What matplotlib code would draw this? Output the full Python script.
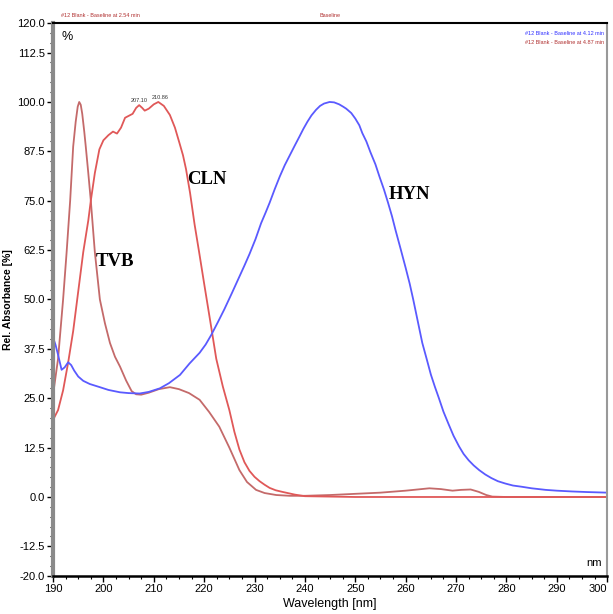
import matplotlib.pyplot as plt
import numpy as np
from matplotlib.ticker import MultipleLocator, FixedLocator

# HYN spectrum (blue)
hyn_wl = [190, 190.5, 191, 191.7, 192.3, 193, 193.6, 194.2, 195, 196, 197.3, 199.3, 201, 203.3,
          205, 207.2, 209, 211.2, 213, 215.2, 217.1, 219.1, 220.3, 221.4, 222.7, 224, 225.5,
          227, 228, 229, 230.2, 231.3, 232.2, 233, 234, 235, 236, 237, 238, 238.9, 239.7,
          240.5, 241.3, 242.2, 243, 243.8, 244.9, 245.8, 246.8, 247.6, 248.2, 249.2, 250,
          250.8, 251.4, 252.2, 253, 254, 254.8, 255.7, 256.5, 257.3, 258, 259, 260, 260.8,
          261.5, 262.4, 263.3, 264.2, 265, 265.8, 266.6, 267.5, 268.5, 269.5, 270.6, 271.5,
          272.5, 273.5, 274.6, 275.8, 277, 278.3, 279.8, 281.3, 283, 285, 287.8, 290, 293,
          296, 300]
hyn_abs = [40.4, 38.5, 36.0, 32.2, 32.8, 34.1, 33.4, 32.0, 30.5, 29.4, 28.6, 27.8, 27.1, 26.5,
           26.3, 26.2, 26.6, 27.5, 28.8, 30.9, 33.8, 36.5, 38.6, 41.0, 44.2, 47.5, 51.6,
           55.8, 58.6, 61.5, 65.3, 69.3, 72.0, 74.5, 77.9, 81.1, 84.0, 86.5, 89.0, 91.2, 93.2,
           95.0, 96.6, 98.0, 99.0, 99.6, 100.0, 99.9, 99.4, 98.8, 98.3, 97.2, 95.8,
           94.1, 92.1, 90.0, 87.3, 84.2, 81.1, 77.8, 74.5, 71.0, 67.5, 62.8, 58.0, 54.0,
           50.0, 44.5, 39.0, 34.8, 31.0, 27.9, 25.0, 21.6, 18.5, 15.5, 12.8, 10.9,
           9.3, 8.0, 6.8, 5.7, 4.8, 4.0, 3.4, 2.9, 2.6, 2.2, 1.8, 1.6, 1.4,
           1.25, 1.1]

# CLN spectrum (red)
cln_wl = [190, 191, 192, 193, 194, 194.8, 196, 197, 197.5, 198.3, 199.2, 200, 201, 201.9, 202.7,
          203.5, 204.3, 205.8, 206.5, 207.1, 207.7, 208.2, 209, 210, 210.9, 212, 213.2, 214.2,
          215.1, 215.8, 216.4, 217.2, 218.1, 219, 220, 221.4, 222.4, 223.7, 225, 226, 227, 228,
          229, 230, 231, 232, 233, 234.2, 235.5, 238, 240, 250, 300]
cln_abs = [19.5, 22.0, 27.0, 34.0, 42.0, 50.0, 62.0, 70.0, 75.0, 82.0, 88.0, 90.3, 91.6, 92.5, 92.0,
           93.5, 96.0, 97.0, 98.5, 99.2, 98.5, 97.8, 98.3, 99.4, 100.0, 99.0, 96.7, 93.5,
           89.6, 86.5, 83.0, 77.0, 69.0, 62.0, 54.0, 43.0, 35.0, 28.0, 22.0, 16.5, 12.0, 8.8,
           6.6, 5.1, 4.0, 3.1, 2.3, 1.7, 1.3, 0.6, 0.2, 0.0, 0.0]

# TVB spectrum (rose)
tvb_wl = [190, 191, 192, 192.7, 193.4, 194, 194.5, 194.9, 195.2, 195.5, 195.8, 196.2, 196.5,
          197, 197.5, 198.3, 199.3, 200.3, 201.3, 202.3, 203.3, 204.5, 205.6, 206.5, 207.5,
          209, 211, 213.2, 215, 217, 219.1, 221, 223, 225, 227, 228.5, 230.3, 232, 234.3,
          237, 240, 245, 250, 255, 260, 264.7, 267, 269.3, 271, 272.9, 274.5, 276, 277.2,
          280, 300]
tvb_abs = [25.8, 35.0, 50.0, 62.0, 75.0, 88.7, 95.0, 98.8, 100.0, 99.3, 97.0, 92.5, 88.7,
           82.0, 75.0, 62.0, 50.0, 44.0, 39.0, 35.5, 33.0, 29.5, 26.8, 26.0, 25.9,
           26.4, 27.3, 27.8, 27.3, 26.3, 24.6, 21.5, 17.8, 12.5, 6.8, 3.8, 1.8, 1.0, 0.5,
           0.3, 0.3, 0.5, 0.8, 1.1, 1.6, 2.2, 2.0, 1.6, 1.8, 1.9, 1.3, 0.5, 0.1,
           0.0, 0.0]

y_ticks = [-20.0, -12.5, 0.0, 12.5, 25.0, 37.5, 50.0, 62.5, 75.0, 87.5, 100.0, 112.5, 120.0]
x_ticks = list(range(190, 301, 10))

tick_font = ['Liberation Sans Narrow', 'Liberation Sans', 'DejaVu Sans']
label_font = ['Liberation Serif', 'DejaVu Serif']

fig = plt.figure(figsize=(6.13, 6.14), dpi=100)
ax = fig.add_axes([0.0865, 0.0619, 0.904, 0.9007])

ax.plot(tvb_wl, tvb_abs, color='#c46a6a', lw=1.3)
ax.plot(cln_wl, cln_abs, color='#e05858', lw=1.3)
ax.plot(hyn_wl, hyn_abs, color='#5a5aff', lw=1.3)

ax.set_xlim(190, 300)
ax.set_ylim(-20, 120)
ax.yaxis.set_major_locator(FixedLocator(y_ticks))
ax.yaxis.set_minor_locator(MultipleLocator(2.5))
ax.xaxis.set_major_locator(FixedLocator(x_ticks))
ax.xaxis.set_minor_locator(MultipleLocator(2.5))
ax.set_yticklabels(['%.1f' % v for v in y_ticks], family=tick_font, fontsize=8)
ax.set_xticklabels([str(v) for v in x_ticks], family=tick_font, fontsize=8)
for lbl in ax.get_xticklabels()[-1:]:
    lbl.set_horizontalalignment('right')
ax.tick_params(which='major', direction='out', length=4, width=1, pad=2)
ax.tick_params(which='minor', direction='out', length=2, width=0.8)

ax.spines['left'].set_color('#8a8a8a')
ax.spines['left'].set_linewidth(3)
ax.spines['right'].set_color('#999999')
ax.spines['right'].set_linewidth(1.5)
ax.spines['bottom'].set_linewidth(1.8)
ax.spines['top'].set_linewidth(1.5)

ax.set_xlabel('Wavelength [nm]', family=tick_font, fontsize=9, labelpad=3)
ax.set_ylabel('Rel. Absorbance [%]', family=['Liberation Sans', 'DejaVu Sans'],
              fontsize=7.5, fontweight='bold', labelpad=3)

# compound labels
ax.text(202.3, 59.5, 'TVB', family=label_font, fontweight='bold', fontsize=13.5,
        ha='center', va='center')
ax.text(220.5, 80.3, 'CLN', family=label_font, fontweight='bold', fontsize=13.5,
        ha='center', va='center')
ax.text(260.8, 76.7, 'HYN', family=label_font, fontweight='bold', fontsize=13.5,
        ha='center', va='center')

# peak labels
ax.text(207.1, 99.8, '207.10', fontsize=4, family=tick_font, ha='center', va='bottom', color='#333333')
ax.text(211.3, 100.6, '210.86', fontsize=4, family=tick_font, ha='center', va='bottom', color='#333333')

# header texts
ax.text(0.015, 0.985, '%', transform=ax.transAxes, fontsize=9, family=tick_font, va='top')
ax.text(0.99, 0.015, 'nm', transform=ax.transAxes, fontsize=8, family=tick_font, ha='right', va='bottom')
fig.text(0.1, 0.974, '#12 Blank - Baseline at 2.54 min', fontsize=4, color='#b03030',
         family=tick_font, va='center')
fig.text(0.522, 0.974, 'Baseline', fontsize=4, color='#b03030', family=tick_font, va='center')
ax.text(0.995, 0.985, '#12 Blank - Baseline at 4.12 min', transform=ax.transAxes, fontsize=4,
        color='#3030ff', family=tick_font, ha='right', va='top')
ax.text(0.995, 0.97, '#12 Blank - Baseline at 4.87 min', transform=ax.transAxes, fontsize=4,
        color='#b03030', family=tick_font, ha='right', va='top')

plt.savefig('out.png', dpi=100)
